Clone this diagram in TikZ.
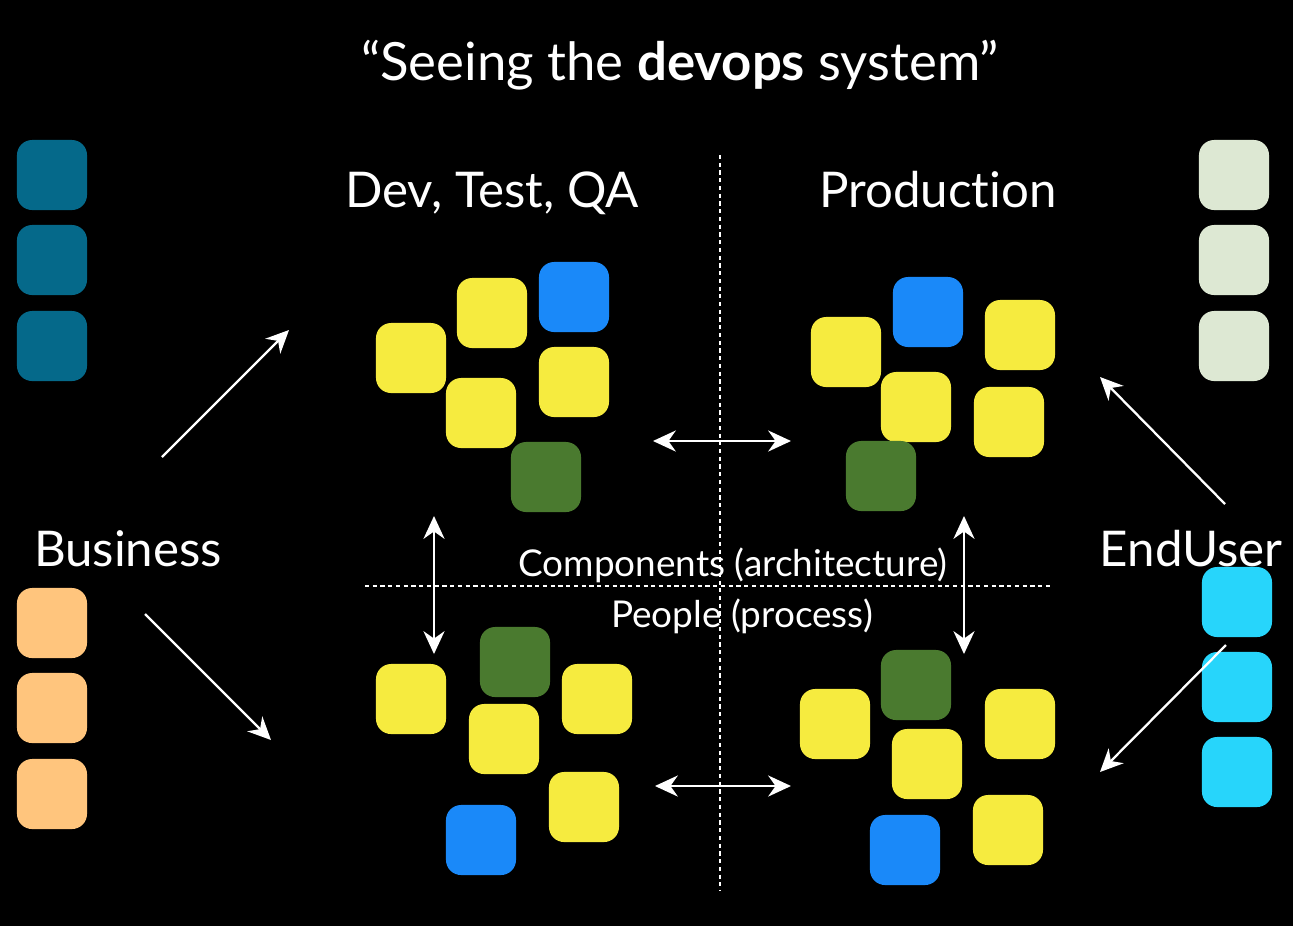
\documentclass[tikz,border=0pt]{standalone}
\usepackage{fontspec}
\setmainfont[Ligatures=NoCommon]{Lato}
\usetikzlibrary{arrows.meta}

\definecolor{tealbox}{HTML}{05698A}
\definecolor{orangebox}{HTML}{FFC57D}
\definecolor{sagebox}{HTML}{DDE8D3}
\definecolor{cyanbox}{HTML}{27D5FB}
\definecolor{yellowbox}{HTML}{F6EB3F}
\definecolor{bluebox}{HTML}{1A89F9}
\definecolor{greenbox}{HTML}{4A7A2F}

\begin{document}
\begin{tikzpicture}[
  x=0.01cm, y=-0.01cm,
  tile/.style={rounded corners=4.3pt, minimum size=0.7cm, inner sep=0pt},
  arr/.style={-{Stealth[length=6.5pt, width=6pt]}, white, line width=0.65pt},
  darr/.style={{Stealth[length=6.5pt, width=6pt]}-{Stealth[length=6.5pt, width=6pt]}, white, line width=0.65pt},
  sep/.style={white, line width=0.6pt, dash pattern=on 1.2pt off 1pt},
  big/.style={text=white, anchor=base, inner sep=0pt, font=\fontsize{14}{16}\selectfont},
  small/.style={text=white, anchor=base, inner sep=0pt, font=\fontsize{10.5}{12}\selectfont},
]
% ---- background ----
\fill[black] (0,0) rectangle (1293,926);
\useasboundingbox (0,0) rectangle (1293,926);

% ---- title and headings ----
\node[big, font=\fontsize{15}{18}\selectfont] (title) at (680,80)
  {“Seeing the \textbf{devops} system”};
\node[big] (devhd)  at (492,207) {Dev, Test, QA};
\node[big] (prodhd) at (938,207) {Production};
\node[big] (biz)    at (128,566) {Business};
\node[big] (user)   at (1191,566) {EndUser};

% ---- separators ----
\coordinate (vtop) at (720,155);
\coordinate (vbot) at (720,890);
\coordinate (hl)   at (365,586);
\coordinate (hr)   at (1052,586);
\draw[sep] (vtop) -- (vbot);
\draw[sep] (hl) -- (hr);

\node[small] (comp) at (733,576) {Components (architecture)};
\node[small] (ppl)  at (742,627) {People (process)};

% ---- side columns ----
\foreach \n/\y in {b1/175, b2/260, b3/346}
  \node[tile, fill=tealbox] (\n) at (52,\y) {};
\foreach \n/\y in {b4/623, b5/708, b6/794}
  \node[tile, fill=orangebox] (\n) at (52,\y) {};
\foreach \n/\y in {u1/175, u2/260, u3/346}
  \node[tile, fill=sagebox] (\n) at (1234,\y) {};
\foreach \n/\y in {u4/602, u5/687, u6/772}
  \node[tile, fill=cyanbox] (\n) at (1237,\y) {};

% ---- Dev/Test/QA components ----
\foreach \n/\c/\x/\y in {dc1/yellowbox/411/358, dc2/yellowbox/492/313,
    dc3/bluebox/574/297, dc4/yellowbox/574/382, dc5/yellowbox/481/413,
    dc6/greenbox/546/477}
  \node[tile, fill=\c] (\n) at (\x,\y) {};

% ---- Production components ----
\foreach \n/\c/\x/\y in {pc1/yellowbox/846/352, pc2/bluebox/928/312,
    pc3/yellowbox/1020/335, pc4/yellowbox/916/407, pc5/yellowbox/1009/422,
    pc6/greenbox/881/476}
  \node[tile, fill=\c] (\n) at (\x,\y) {};

% ---- Dev/Test/QA people ----
\foreach \n/\c/\x/\y in {dp1/yellowbox/411/699, dp2/greenbox/515/662,
    dp3/yellowbox/597/699, dp4/yellowbox/504/739, dp5/yellowbox/584/807,
    dp6/bluebox/481/840}
  \node[tile, fill=\c] (\n) at (\x,\y) {};

% ---- Production people ----
\foreach \n/\c/\x/\y in {pp1/yellowbox/835/724, pp2/greenbox/916/685,
    pp3/yellowbox/1020/724, pp4/yellowbox/927/764, pp5/yellowbox/1008/830,
    pp6/bluebox/905/850}
  \node[tile, fill=\c] (\n) at (\x,\y) {};

% ---- arrows ----
\coordinate (bizupA) at (162,457);  \coordinate (bizupB) at (289,330);
\coordinate (bizdnA) at (145,614);  \coordinate (bizdnB) at (271,740);
\coordinate (usrupA) at (1225,504); \coordinate (usrupB) at (1100,377);
\coordinate (usrdnA) at (1226,645); \coordinate (usrdnB) at (1100,772);
\draw[arr] (bizupA) -- (bizupB);
\draw[arr] (bizdnA) -- (bizdnB);
\draw[arr] (usrupA) -- (usrupB);
\draw[arr] (usrdnA) -- (usrdnB);

\coordinate (htA) at (653,441); \coordinate (htB) at (791,441);
\coordinate (hbA) at (655,786); \coordinate (hbB) at (791,786);
\coordinate (vlA) at (434,516); \coordinate (vlB) at (434,654);
\coordinate (vrA) at (964,516); \coordinate (vrB) at (964,654);
\foreach \a/\b in {htA/htB, hbA/hbB, vlA/vlB, vrA/vrB}
  \draw[darr] (\a) -- (\b);
\end{tikzpicture}
\end{document}
